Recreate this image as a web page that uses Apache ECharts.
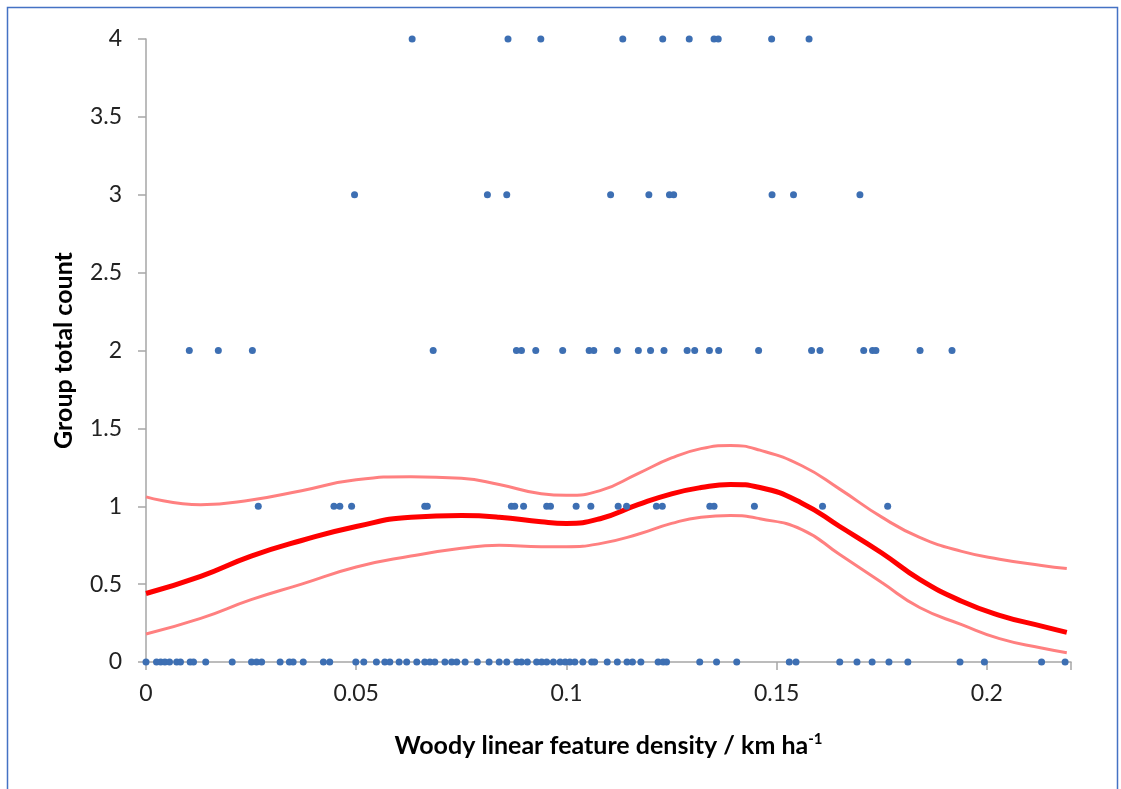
<!DOCTYPE html>
<html>
<head>
<meta charset="utf-8">
<script src="https://cdn.jsdelivr.net/npm/echarts@6/dist/echarts.min.js"></script>
<style>html,body{margin:0;padding:0;background:#fff}#c{width:1121px;height:789px}</style>
</head>
<body>
<div id="c"></div>
<script>
// observed densities (km/ha) grouped by group total count
const xAt0 = [0, 0.0025, 0.0035, 0.0045, 0.0056, 0.0073, 0.0082, 0.0105, 0.0113, 0.0142, 0.0205, 0.0251, 0.0263, 0.0275, 0.0319, 0.0341, 0.035, 0.0374, 0.0422, 0.0437, 0.0499, 0.0518, 0.0548, 0.0568, 0.058, 0.0602, 0.062, 0.0644, 0.0663, 0.0675, 0.0687, 0.0711, 0.0727, 0.0739, 0.0759, 0.0788, 0.0816, 0.084, 0.0858, 0.0882, 0.0893, 0.0907, 0.0929, 0.0941, 0.0953, 0.0969, 0.0985, 0.0997, 0.1008, 0.102, 0.1039, 0.106, 0.1067, 0.1097, 0.1121, 0.1144, 0.1157, 0.1177, 0.1218, 0.123, 0.1238, 0.1317, 0.1357, 0.1405, 0.153, 0.1546, 0.165, 0.1691, 0.1727, 0.1767, 0.1812, 0.1936, 0.1994, 0.213, 0.2186];
const xAt1 = [0.0267, 0.0447, 0.0461, 0.0489, 0.0663, 0.0669, 0.0869, 0.0877, 0.0898, 0.0953, 0.0962, 0.1023, 0.1058, 0.1123, 0.1143, 0.1214, 0.1228, 0.1341, 0.1351, 0.1447, 0.1609, 0.1764];
const xAt2 = [0.0103, 0.0172, 0.0253, 0.0683, 0.0881, 0.0893, 0.0927, 0.0991, 0.1054, 0.1065, 0.1121, 0.1171, 0.12, 0.1232, 0.1287, 0.1305, 0.134, 0.1362, 0.1457, 0.1583, 0.1603, 0.1707, 0.1728, 0.1736, 0.1841, 0.1917];
const xAt3 = [0.0496, 0.0812, 0.0858, 0.1105, 0.1196, 0.1245, 0.1255, 0.1489, 0.154, 0.1698];
const xAt4 = [0.0633, 0.0861, 0.0939, 0.1134, 0.1229, 0.1292, 0.1351, 0.1361, 0.1488, 0.1577];

// fitted curve and confidence bounds
const curveX = [0, 0.013, 0.025, 0.037, 0.05, 0.063, 0.075, 0.084, 0.094, 0.1, 0.108, 0.117, 0.125, 0.132, 0.139, 0.146, 0.156, 0.165, 0.175, 0.184, 0.194, 0.203, 0.213, 0.219];
const fitY =   [0.44, 0.55, 0.68, 0.78, 0.87, 0.93, 0.94, 0.93, 0.90, 0.89, 0.92, 1.01, 1.08, 1.12, 1.14, 1.12, 1.02, 0.87, 0.70, 0.53, 0.39, 0.30, 0.23, 0.19];
const upperY = [1.06, 1.01, 1.04, 1.10, 1.17, 1.19, 1.18, 1.14, 1.08, 1.07, 1.10, 1.21, 1.31, 1.37, 1.39, 1.36, 1.26, 1.11, 0.93, 0.80, 0.71, 0.66, 0.62, 0.60];
const lowerY = [0.18, 0.28, 0.40, 0.50, 0.61, 0.68, 0.73, 0.75, 0.74, 0.74, 0.76, 0.82, 0.89, 0.93, 0.94, 0.92, 0.85, 0.69, 0.51, 0.35, 0.24, 0.15, 0.09, 0.06];

const yTicks = ['0','0.5','1','1.5','2','2.5','3','3.5','4'];
const xTicks = ['0','0.05','0.1','0.15','0.2'];

const groups = [xAt0, xAt1, xAt2, xAt3, xAt4];
const pts = [];
groups.forEach((arr, g) => arr.forEach(x => pts.push([x, g])));
const zip = (xs, ys) => xs.map((x, i) => [x, ys[i]]);

const font = 'Lato, "Open Sans", sans-serif';
const chart = echarts.init(document.getElementById('c'), null, {renderer: 'canvas'});
chart.setOption({
  backgroundColor: '#fff',
  animation: false,
  graphic: [
    {type: 'polyline', shape: {points: [[7.5, 795], [7.5, 7.5], [1117.5, 7.5], [1117.5, 795]]}, style: {stroke: '#4472c4', lineWidth: 1.5, fill: null}}
  ],
  grid: {left: 146, right: 50, top: 39, bottom: 127},
  xAxis: {
    type: 'value', min: 0, max: 0.22, interval: 0.05,
    name: '{b|Woody linear feature density / km ha}{s|-1}',
    nameLocation: 'middle', nameGap: 70,
    nameTextStyle: {rich: {
      b: {fontFamily: font, fontSize: 25, fontWeight: 'bold', color: '#000'},
      s: {fontFamily: font, fontSize: 15, fontWeight: 'bold', color: '#000', verticalAlign: 'top', padding: [0, 0, 12, 0]}
    }},
    axisLine: {show: true, onZero: false, lineStyle: {color: '#a6a6a6', width: 1.5}},
    axisTick: {show: true, length: 8, lineStyle: {color: '#a6a6a6', width: 1.5}},
    axisLabel: {fontFamily: font, fontSize: 23, color: '#222', margin: 20,
      formatter: v => { const i = Math.round(v / 0.05); return Math.abs(v - i*0.05) < 1e-9 && xTicks[i] !== undefined ? xTicks[i] : ''; }},
    splitLine: {show: false}
  },
  yAxis: {
    type: 'value', min: 0, max: 4, interval: 0.5,
    name: 'Group total count', nameLocation: 'middle', nameGap: 70, nameRotate: 90,
    nameTextStyle: {fontFamily: font, fontSize: 25, fontWeight: 'bold', color: '#000'},
    axisLine: {show: true, lineStyle: {color: '#a6a6a6', width: 1.5}},
    axisTick: {show: true, length: 8, lineStyle: {color: '#a6a6a6', width: 1.5}},
    axisLabel: {fontFamily: font, fontSize: 23, color: '#222', margin: 24,
      formatter: v => yTicks[Math.round(v * 2)]},
    splitLine: {show: false}
  },
  series: [
    {type: 'line', data: zip(curveX, upperY), smooth: 0.5, symbol: 'none', lineStyle: {color: '#ff8080', width: 3}, z: 3},
    {type: 'line', data: zip(curveX, lowerY), smooth: 0.5, symbol: 'none', lineStyle: {color: '#ff8080', width: 3}, z: 3},
    {type: 'line', data: zip(curveX, fitY), smooth: 0.5, symbol: 'none', lineStyle: {color: '#ff0000', width: 5}, z: 4},
    {type: 'scatter', data: pts, symbol: 'circle', symbolSize: 7, itemStyle: {color: '#3d6fb3', opacity: 1}, z: 5}
  ]
});
</script>
</body>
</html>
